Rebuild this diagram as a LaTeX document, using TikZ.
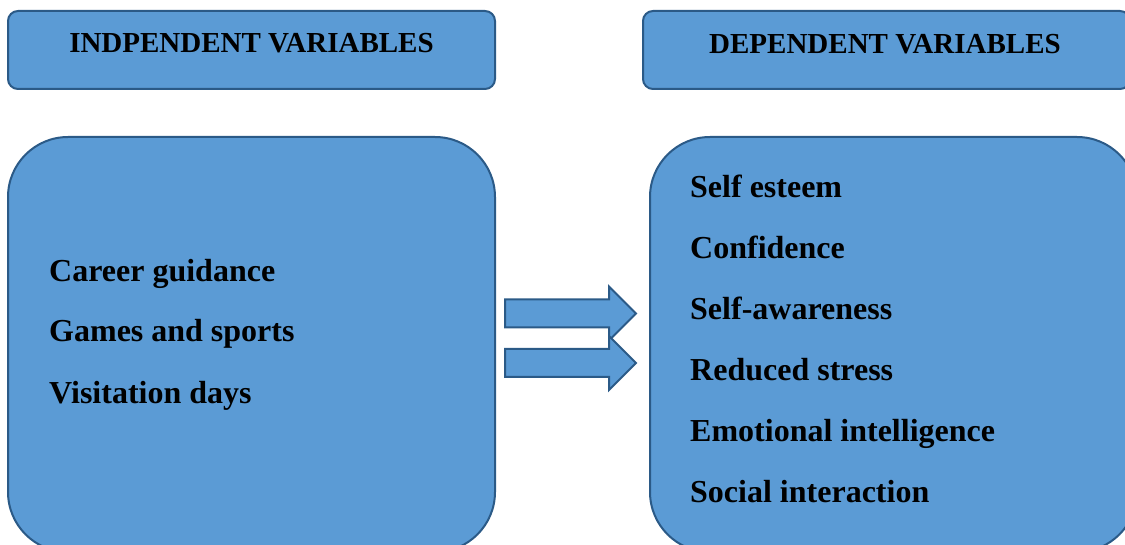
\documentclass[tikz,border=0pt]{standalone}
\usepackage{fontspec}
\setmainfont{Liberation Serif}
\usepackage{tikz}
\usetikzlibrary{shapes,arrows,positioning,calc}

\definecolor{boxfill}{HTML}{5B9BD5}
\definecolor{boxline}{HTML}{2B5A87}

\tikzset{
  headbox/.style={draw=boxline, fill=boxfill, line width=2pt, rectangle, rounded corners=10pt, minimum height=78pt, inner sep=0pt},
  bigbox/.style={draw=boxline, fill=boxfill, line width=2pt, rectangle, rounded corners=60pt, minimum width=487pt, minimum height=415pt, inner sep=0pt},
  blockarrow/.style={draw=boxline, fill=boxfill, line width=2pt, single arrow, single arrow head extend=13pt, single arrow tip angle=90, minimum height=131pt, inner xsep=0pt, inner ysep=13pt, anchor=tail},
  headtext/.style={font=\fontsize{29}{34}\selectfont\bfseries, anchor=base, inner sep=0pt},
  itemtext/.style={font=\fontsize{32}{38}\selectfont\bfseries, anchor=base west, inner sep=0pt}
}

\begin{document}
\begin{tikzpicture}[x=1pt, y=-1pt]
    \useasboundingbox (0,0) rectangle (1125,545);
    \clip (0,0) rectangle (1125,545);

    \node (indepbig) [bigbox] at (251.5,344.5) {};
    \node (depbig) [bigbox] at (893.5,344.5) {};

    \node (indepbox) [headbox, minimum width=487pt, above=46pt of indepbig] {};
    \node (depbox) [headbox, minimum width=487pt, above=46pt of depbig, xshift=-7pt] {};

    \node (indeptitle) [headtext] at (251.5,53) {INDPENDENT VARIABLES};
    \node (deptitle) [headtext] at (885,53.5) {DEPENDENT VARIABLES};

    \node (arrowa) [blockarrow] at (504,313.5) {};
    \node (arrowb) [blockarrow] at (504,363) {};

    % independent variables
    \node (career) [itemtext] at (49,281.7) {Career guidance};
    \node (games) [itemtext] at (49,341.7) {Games and sports};
    \node (visits) [itemtext] at (49,403) {Visitation days};

    % dependent variables
    \node (esteem) [itemtext] at (690,198) {Self esteem};
    \node (confid) [itemtext] at (690,258.5) {Confidence};
    \node (aware) [itemtext] at (690,320) {Self-awareness};
    \node (stress) [itemtext] at (690,380.5) {Reduced stress};
    \node (emoint) [itemtext] at (690,441.5) {Emotional intelligence};
    \node (social) [itemtext] at (690,502) {Social interaction};

\end{tikzpicture}
\end{document}
